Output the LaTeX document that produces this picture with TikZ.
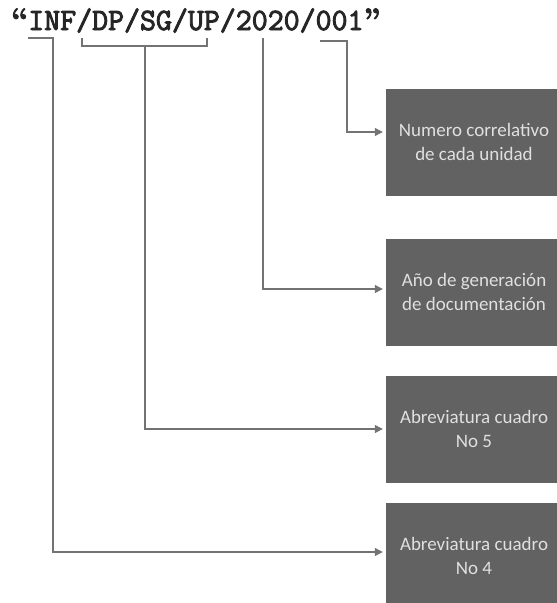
\documentclass[tikz,border=0pt]{standalone}
\usepackage{fontspec}
\newfontfamily\boxfont{Carlito}
\newfontfamily\codefont{Latin Modern Mono}[AutoFakeBold=3]
\newfontfamily\quotefont{Latin Modern Roman}[FakeBold=3]
\newcommand{\comilla}[1]{{\quotefont #1}}
\usetikzlibrary{calc,arrows.meta}
\definecolor{boxgray}{RGB}{98,98,98}
\definecolor{linegray}{RGB}{115,115,115}

\begin{document}
\begin{tikzpicture}[x=1pt,y=-1pt,
  caja/.style={fill=boxgray, text=white!88!black, minimum width=176pt, minimum height=107pt,
    inner sep=0pt, align=center, font=\boxfont\fontsize{19}{24}\selectfont},
  linea/.style={draw=linegray, line width=1.2pt},
  flecha/.style={linea, -{Triangle[length=8pt,width=8pt]}, shorten >=3pt}]

\useasboundingbox (0,0) rectangle (557,603);
\clip (0,0) rectangle (557,603);

% codigo
\node[anchor=base west, inner sep=0pt, text=black!85, font=\codefont\bfseries\fontsize{31}{31}\selectfont] (codigo) at (11,30) {\comilla{“}INF/DP/SG/UP/2020/001\comilla{”}};

% cajas
\node[caja] (num) at (474,142) {Numero correlativo\\de cada unidad};
\node[caja] (anio) at (474,292) {Año de generación\\de documentación};
\node[caja] (abr5) at (474,429) {Abreviatura cuadro\\No 5};
\node[caja] (abr4) at (474,556) {Abreviatura cuadro\\No 4};

% corchetes
\coordinate (inf0) at (28,38);
\coordinate (inf1) at (53,38);
\coordinate (dp0) at (82,38);
\coordinate (up0) at (207,38);
\coordinate (mid) at (145,46);
\coordinate (yr) at (263,38);
\coordinate (cor0) at (320,41);
\coordinate (cor1) at (347,41);

\draw[linea] (dp0) -- ++(0,8) -- (up0 |- mid) -- (up0);

\draw[flecha] (cor0) -- (cor1) |- ([yshift=10pt]num.west);
\draw[flecha] (yr) |- ([yshift=3pt]anio.west);
\draw[flecha] (mid) |- (abr5.west);
\draw[flecha] (inf0) -- (inf1) |- ([yshift=4pt]abr4.west);

\end{tikzpicture}
\end{document}
